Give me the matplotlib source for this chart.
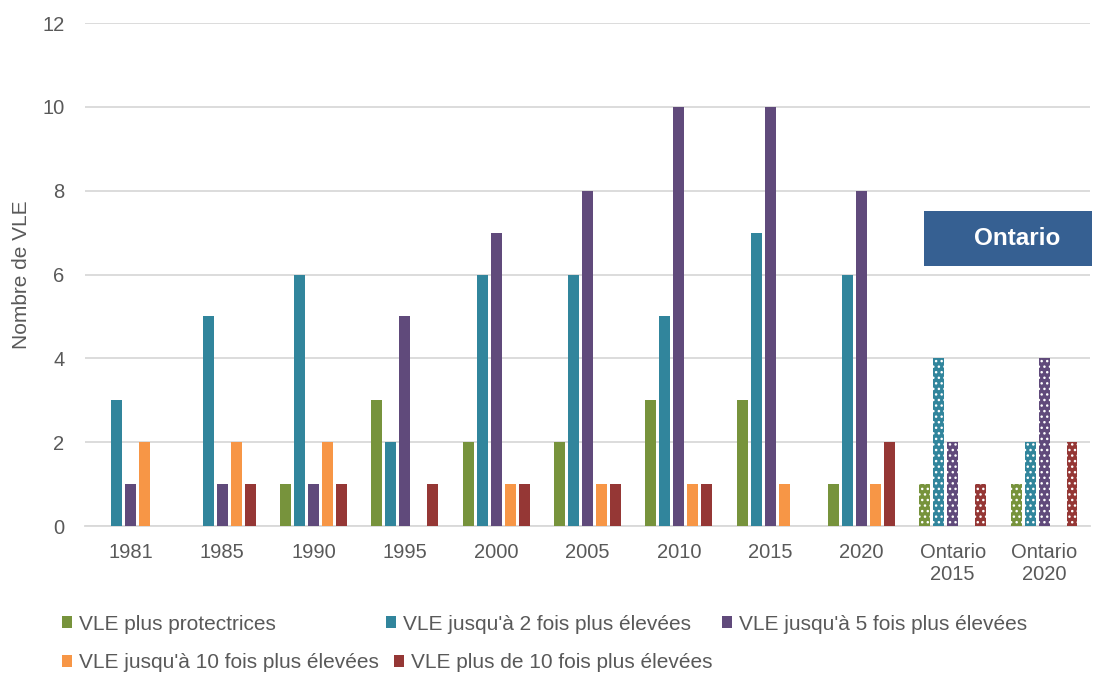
import numpy as np
import matplotlib.pyplot as plt
from matplotlib.patches import Rectangle

plt.rcParams['font.family'] = ['Liberation Sans', 'DejaVu Sans']
plt.rcParams['hatch.linewidth'] = 1.0

# données
categories = ['1981', '1985', '1990', '1995', '2000', '2005', '2010', '2015', '2020',
              'Ontario\n2015', 'Ontario\n2020']
protectrices = [0, 0, 1, 3, 2, 2, 3, 3, 1, 1, 1]
fois2 = [3, 5, 6, 2, 6, 6, 5, 7, 6, 4, 2]
fois5 = [1, 1, 1, 5, 7, 8, 10, 10, 8, 2, 4]
fois10 = [2, 2, 2, 0, 1, 1, 1, 1, 1, 0, 0]
plus10 = [0, 1, 1, 1, 1, 1, 1, 0, 2, 1, 2]

series = [
    ('VLE plus protectrices', protectrices, '#77933C'),
    ("VLE jusqu'à 2 fois plus élevées", fois2, '#31859C'),
    ("VLE jusqu'à 5 fois plus élevées", fois5, '#604A7B'),
    ("VLE jusqu'à 10 fois plus élevées", fois10, '#F79646'),
    ('VLE plus de 10 fois plus élevées', plus10, '#953735'),
]

gris = '#595959'
fig = plt.figure(figsize=(10.93, 6.75), dpi=100)
ax = fig.add_axes([0.078, 0.2207, 0.919, 0.745])

x = np.arange(len(categories))
step = 0.153
width = 0.12
handles = []
for i, (nom, vals, couleur) in enumerate(series):
    pos = x + (i - 2) * step
    vals = np.array(vals)
    # barres pleines pour les années, pointillées pour Ontario
    h = ax.bar(pos[:9], vals[:9], width, color=couleur, label=nom, zorder=3)
    ax.bar(pos[9:], vals[9:], width, color=couleur, edgecolor='white',
           linewidth=0, hatch='...', zorder=3)
    handles.append(h)

ax.set_xlim(-0.5, len(categories) - 0.5)
ax.set_ylim(0, 12)
ax.set_yticks(range(0, 13, 2))
ax.set_xticks(x)
ax.set_xticklabels(categories)
ax.grid(axis='y', color='#D9D9D9', linewidth=1.3, zorder=0)
for s in ['top', 'right', 'left']:
    ax.spines[s].set_visible(False)
ax.spines['bottom'].set_color('#D9D9D9')
ax.spines['bottom'].set_linewidth(1.3)
ax.tick_params(axis='both', length=0, labelsize=14.5, colors=gris)
ax.tick_params(axis='y', pad=15)
ax.tick_params(axis='x', pad=12)
ax.set_ylabel('Nombre de VLE', fontsize=15, color=gris, labelpad=8)

# encadré Ontario
fig.patches.append(Rectangle((0.845, 0.606), 0.154, 0.081, transform=fig.transFigure,
                             facecolor='#366092', edgecolor='none'))
fig.text(1017 / 1093, 0.646, 'Ontario', color='white', fontsize=17.5, fontweight='bold',
         ha='center', va='center')

# légende : une entrée à la fois, comme dans l'original
places = [(62, 624), (386, 624), (722, 624), (62, 663), (394, 663)]
for k, (px, py) in enumerate(places):
    leg = fig.legend([handles[k]], [series[k][0]], loc='center left',
                     bbox_to_anchor=(px / 1093, 1 - py / 675), frameon=False,
                     fontsize=15, handlelength=0.5, handleheight=0.5,
                     handletextpad=0.3, borderpad=0, borderaxespad=0)
    for t in leg.get_texts():
        t.set_color(gris)

plt.savefig('out.png', dpi=100)
